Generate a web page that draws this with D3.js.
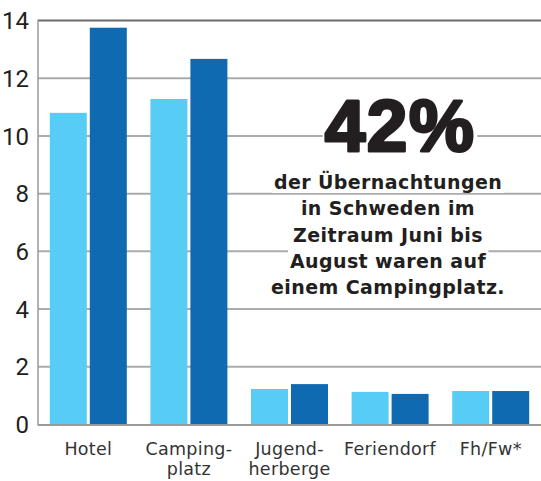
<!DOCTYPE html>
<html><head><meta charset="utf-8">
<script src="https://cdn.jsdelivr.net/npm/d3@7"></script>
<style>body{margin:0;background:#fff}</style></head>
<body><svg id="c" width="541" height="481"></svg>
<script>
const categories = ["Hotel", "Camping-\nplatz", "Jugend-\nherberge", "Feriendorf", "Fh/Fw*"];
const seriesA = [10.8, 11.28, 1.23, 1.13, 1.16];
const seriesB = [13.75, 12.67, 1.4, 1.06, 1.16];
const yTicks = [0, 2, 4, 6, 8, 10, 12, 14];
const headline = "42%";
const noteLines = ["der Übernachtungen", "in Schweden im", "Zeitraum Juni bis", "August waren auf", "einem Campingplatz."];
const colors = ["#57ccf5", "#106ab2"];

const svg = d3.select("#c");
const mLeft = 38, mRight = 541, mTop = 20.5, mBottom = 424.5;

const y = d3.scaleLinear().domain([0, 14]).range([mBottom, mTop]);
const x = d3.scaleBand().domain(categories).range([mLeft, mRight]).paddingInner(0.2346).paddingOuter(0.1173);
const xs = d3.scaleBand().domain([0, 1]).range([0, x.bandwidth()]).paddingInner(0.075);

// gridlines
svg.append("g").selectAll("line").data(yTicks.filter(t => t > 0)).join("line")
  .attr("x1", mLeft).attr("x2", mRight)
  .attr("y1", d => y(d)).attr("y2", d => y(d))
  .attr("stroke", d => d === 14 ? "#6b6b6b" : "#ababab")
  .attr("stroke-width", 2);

// annotation text with white background
const ann = svg.append("g");
const cx = 388;
const big = ann.append("text").text(headline)
  .attr("x", 400).attr("y", 151)
  .attr("text-anchor", "middle")
  .attr("font-family", "Liberation Sans, Arial, sans-serif")
  .attr("font-weight", 700).attr("font-size", 73).attr("letter-spacing", 1.5)
  .attr("fill", "#231f20").attr("stroke", "#231f20").attr("stroke-width", 3)
  .attr("stroke-linejoin", "round");
const noteTexts = noteLines.map((t, i) => ann.append("text").text(t)
  .attr("x", cx).attr("y", 189 + i * 26.25)
  .attr("text-anchor", "middle")
  .attr("font-family", "DejaVu Sans, sans-serif")
  .attr("font-weight", 700).attr("font-size", 19).attr("letter-spacing", 0.4)
  .attr("fill", "#231f20"));
[big, ...noteTexts].forEach(t => {
  const b = t.node().getBBox();
  ann.insert("rect", "text")
    .attr("x", b.x - 2).attr("y", b.y).attr("width", b.width + 4).attr("height", b.height)
    .attr("fill", "#fff");
});

// bars
const groups = svg.append("g").selectAll("g").data(categories).join("g")
  .attr("transform", d => `translate(${x(d)},0)`);
groups.selectAll("rect").data((d, i) => [seriesA[i], seriesB[i]]).join("rect")
  .attr("x", (d, j) => xs(j)).attr("width", xs.bandwidth())
  .attr("y", d => y(d)).attr("height", d => y(0) - y(d))
  .attr("fill", (d, j) => colors[j]);

// axes lines
svg.append("line").attr("x1", mLeft).attr("x2", mLeft).attr("y1", mTop - 1).attr("y2", mBottom + 1)
  .attr("stroke", "#9a9a9a").attr("stroke-width", 1.5);
svg.append("line").attr("x1", mLeft).attr("x2", mRight).attr("y1", mBottom + 0.5).attr("y2", mBottom + 0.5)
  .attr("stroke", "#9a9a9a").attr("stroke-width", 2);

// y tick labels
svg.append("g").selectAll("text").data(yTicks).join("text")
  .attr("x", 29).attr("y", d => y(d)).attr("dy", "0.36em")
  .attr("text-anchor", "end")
  .attr("font-family", "Liberation Sans Narrow, Roboto, sans-serif")
  .attr("font-size", 24).attr("fill", "#231f20")
  .text(d => d);

// category labels
const lab = svg.append("g").selectAll("text").data(categories).join("text")
  .attr("text-anchor", "middle")
  .attr("font-family", "DejaVu Sans, sans-serif")
  .attr("font-size", 17.5).attr("letter-spacing", 0.3).attr("fill", "#333")
  .attr("transform", d => `translate(${x(d) + x.bandwidth() / 2},455)`);
lab.selectAll("tspan").data(d => d.split("\n")).join("tspan")
  .attr("x", 0).attr("dy", (d, i) => i === 0 ? 0 : 20)
  .text(d => d);
</script>
</body></html>
